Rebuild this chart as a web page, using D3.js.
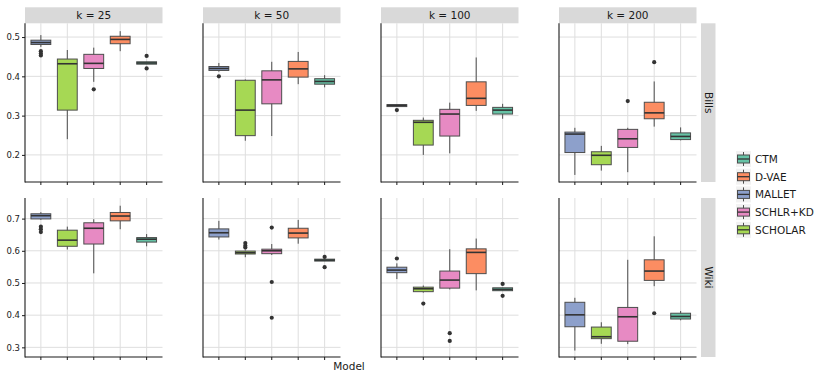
<!DOCTYPE html>
<html>
<head>
<meta charset="utf-8">
<script src="https://cdn.jsdelivr.net/npm/d3@7"></script>
<style>
  body { margin: 0; background: #fff; }
  text { font-family: "DejaVu Sans", sans-serif; fill: #1a1a1a; }
</style>
</head>
<body>
<div id="chart"></div>
<script>
// categories
var models = ["MALLET", "SCHOLAR", "SCHLR+KD", "D-VAE", "CTM"];
var legendOrder = ["CTM", "D-VAE", "MALLET", "SCHLR+KD", "SCHOLAR"];
var ks = [25, 50, 100, 200];
var datasets = ["Bills", "Wiki"];
var colors = { "CTM": "#66c2a5", "D-VAE": "#fc8d62", "MALLET": "#8da0cb", "SCHLR+KD": "#e78ac3", "SCHOLAR": "#a6d854" };

// Bills: one row per k, one value per model (MALLET, SCHOLAR, SCHLR+KD, D-VAE, CTM)
var billsLo  = [[0.475, 0.240, 0.386, 0.464, 0.431], [0.412, 0.236, 0.248, 0.380, 0.372], [0.322, 0.200, 0.204, 0.312, 0.292], [0.149, 0.160, 0.156, 0.272, 0.237]];
var billsQ1  = [[0.481, 0.314, 0.420, 0.483, 0.431], [0.415, 0.249, 0.330, 0.398, 0.380], [0.323, 0.225, 0.248, 0.326, 0.304], [0.206, 0.175, 0.219, 0.292, 0.239]];
var billsMed = [[0.486, 0.432, 0.433, 0.494, 0.434], [0.420, 0.314, 0.391, 0.419, 0.387], [0.326, 0.283, 0.304, 0.344, 0.314], [0.253, 0.199, 0.241, 0.307, 0.247]];
var billsQ3  = [[0.492, 0.444, 0.456, 0.502, 0.437], [0.425, 0.390, 0.414, 0.438, 0.394], [0.328, 0.288, 0.316, 0.386, 0.321], [0.258, 0.208, 0.265, 0.334, 0.256]];
var billsHi  = [[0.505, 0.467, 0.473, 0.515, 0.437], [0.434, 0.392, 0.437, 0.462, 0.403], [0.328, 0.295, 0.333, 0.448, 0.330], [0.269, 0.223, 0.269, 0.387, 0.270]];
var billsOut = [[[0.464, 0.458, 0.453], [], [0.367], [], [0.452, 0.420]],
                [[0.400], [], [], [], []],
                [[0.314], [], [], [], []],
                [[], [], [0.337], [0.436], []]];

// Wiki
var wikiLo  = [[0.696, 0.604, 0.530, 0.667, 0.614], [0.635, 0.580, 0.587, 0.622, 0.568], [0.512, 0.470, 0.480, 0.477, 0.476], [0.290, 0.311, 0.310, 0.490, 0.384]];
var wikiQ1  = [[0.699, 0.614, 0.621, 0.693, 0.627], [0.643, 0.590, 0.591, 0.640, 0.568], [0.532, 0.473, 0.484, 0.529, 0.476], [0.364, 0.327, 0.319, 0.508, 0.388]];
var wikiMed = [[0.709, 0.633, 0.670, 0.708, 0.636], [0.656, 0.594, 0.600, 0.655, 0.571], [0.540, 0.482, 0.509, 0.595, 0.480], [0.401, 0.333, 0.395, 0.537, 0.396]];
var wikiQ3  = [[0.715, 0.664, 0.687, 0.719, 0.641], [0.668, 0.599, 0.605, 0.670, 0.574], [0.549, 0.487, 0.537, 0.606, 0.485], [0.440, 0.363, 0.424, 0.572, 0.406]];
var wikiHi  = [[0.720, 0.675, 0.698, 0.740, 0.652], [0.693, 0.601, 0.621, 0.696, 0.574], [0.561, 0.492, 0.605, 0.638, 0.485], [0.454, 0.378, 0.572, 0.645, 0.413]];
var wikiOut = [[[0.675, 0.667, 0.658], [], [], [], []],
               [[], [0.624, 0.616, 0.610], [0.672, 0.503, 0.392], [], [0.581, 0.549]],
               [[0.576], [0.436], [0.344, 0.320], [], [0.497, 0.460]],
               [[], [], [], [0.406], []]];

var stats = {
  "Bills": { lo: billsLo, q1: billsQ1, med: billsMed, q3: billsQ3, hi: billsHi, out: billsOut },
  "Wiki":  { lo: wikiLo,  q1: wikiQ1,  med: wikiMed,  q3: wikiQ3,  hi: wikiHi,  out: wikiOut }
};

// y ticks per row
var billsTicks = [0.2, 0.3, 0.4, 0.5];
var wikiTicks = [0.3, 0.4, 0.5, 0.6, 0.7];
var ticks = { "Bills": billsTicks, "Wiki": wikiTicks };
var domains = { "Bills": [0.131, 0.535], "Wiki": [0.270, 0.764] };

var W = 830, H = 379;
var panelW = 137.5;
var colX = [25, 203, 381, 559];
var rowY = [[23.3, 182], [198, 357]];

var svg = d3.select("#chart").append("svg")
  .attr("width", W).attr("height", H);

var x = d3.scalePoint().domain(models).range([0, panelW]).padding(0.6);
var bw = x.step() * 0.75;

datasets.forEach(function(ds, r) {
  var y = d3.scaleLinear().domain(domains[ds]).range([rowY[r][1], rowY[r][0]]);
  var s = stats[ds];

  ks.forEach(function(k, c) {
    var g = svg.append("g").attr("transform", "translate(" + colX[c] + ",0)");

    // grid
    g.selectAll(".hgrid").data(ticks[ds]).enter().append("line")
      .attr("x1", 0).attr("x2", panelW)
      .attr("y1", function(d) { return y(d); }).attr("y2", function(d) { return y(d); })
      .attr("stroke", "#dedede").attr("stroke-width", 1);
    g.selectAll(".vgrid").data(models).enter().append("line")
      .attr("x1", function(d) { return x(d); }).attr("x2", function(d) { return x(d); })
      .attr("y1", rowY[r][0]).attr("y2", rowY[r][1])
      .attr("stroke", "#dedede").attr("stroke-width", 1);

    // strip on top
    if (r === 0) {
      g.append("rect").attr("x", 0).attr("y", 7.3).attr("width", panelW).attr("height", 16)
        .attr("fill", "#d9d9d9");
      g.append("text").attr("x", panelW / 2).attr("y", 19.3)
        .attr("text-anchor", "middle").attr("font-size", 10.5)
        .text("k = " + k);
    }

    // boxes
    var box = g.selectAll(".box").data(models).enter().append("g");
    box.append("line")
      .attr("x1", function(d) { return x(d); }).attr("x2", function(d) { return x(d); })
      .attr("y1", function(d, i) { return y(s.hi[c][i]); })
      .attr("y2", function(d, i) { return y(s.lo[c][i]); })
      .attr("stroke", "#4d4d4d").attr("stroke-width", 1);
    box.append("rect")
      .attr("x", function(d) { return x(d) - bw / 2; })
      .attr("width", bw)
      .attr("y", function(d, i) { return y(s.q3[c][i]); })
      .attr("height", function(d, i) { return Math.max(1, y(s.q1[c][i]) - y(s.q3[c][i])); })
      .attr("fill", function(d) { return colors[d]; })
      .attr("stroke", "#4d4d4d").attr("stroke-width", 1);
    box.append("line")
      .attr("x1", function(d) { return x(d) - bw / 2; })
      .attr("x2", function(d) { return x(d) + bw / 2; })
      .attr("y1", function(d, i) { return y(s.med[c][i]); })
      .attr("y2", function(d, i) { return y(s.med[c][i]); })
      .attr("stroke", "#333").attr("stroke-width", 1.6);
    box.each(function(d, i) {
      d3.select(this).selectAll("circle").data(s.out[c][i]).enter().append("circle")
        .attr("cx", x(d)).attr("cy", function(v) { return y(v); })
        .attr("r", 2.1).attr("fill", "#333");
    });

    // axes lines
    g.append("line").attr("x1", 0).attr("x2", 0)
      .attr("y1", rowY[r][0]).attr("y2", rowY[r][1] + 0.5)
      .attr("stroke", "#1a1a1a").attr("stroke-width", 1.1);
    g.append("line").attr("x1", 0).attr("x2", panelW)
      .attr("y1", rowY[r][1]).attr("y2", rowY[r][1])
      .attr("stroke", "#1a1a1a").attr("stroke-width", 1.1);
    g.selectAll(".xt").data(models).enter().append("line")
      .attr("x1", function(d) { return x(d); }).attr("x2", function(d) { return x(d); })
      .attr("y1", rowY[r][1]).attr("y2", rowY[r][1] + 3)
      .attr("stroke", "#1a1a1a");

    if (c === 0) {
      var ax = g.append("g")
        .call(d3.axisLeft(y).tickValues(ticks[ds]).tickSize(3).tickPadding(2)
          .tickFormat(d3.format(".1f")));
      ax.select(".domain").remove();
      ax.selectAll("line").attr("stroke", "#1a1a1a");
      ax.selectAll("text").attr("font-size", 8.5).attr("fill", "#1a1a1a")
        .style("font-family", "DejaVu Sans, sans-serif");
    }

    // strip on right
    if (c === ks.length - 1) {
      var sx = panelW + 4.5;
      g.append("rect").attr("x", sx).attr("y", rowY[r][0]).attr("width", 14.5)
        .attr("height", rowY[r][1] - rowY[r][0]).attr("fill", "#d9d9d9");
      g.append("text")
        .attr("transform", "translate(" + (sx + 3.5) + "," + ((rowY[r][0] + rowY[r][1]) / 2) + ") rotate(90)")
        .attr("text-anchor", "middle").attr("font-size", 10.5)
        .text(ds);
    }
  });
});

// x axis title
svg.append("text").attr("x", 349).attr("y", 370)
  .attr("text-anchor", "middle").attr("font-size", 10.5).text("Model");

// legend
var legend = svg.append("g").attr("transform", "translate(736,151)");
var item = legend.selectAll(".item").data(legendOrder).enter().append("g")
  .attr("transform", function(d, i) { return "translate(0," + (i * 17.7) + ")"; });
item.append("rect").attr("width", 15).attr("height", 16).attr("fill", "#f2f2f2");
item.append("line").attr("x1", 7.5).attr("x2", 7.5).attr("y1", 1).attr("y2", 15)
  .attr("stroke", "#4d4d4d");
item.append("rect").attr("x", 1.5).attr("y", 4).attr("width", 12).attr("height", 8)
  .attr("fill", function(d) { return colors[d]; })
  .attr("stroke", "#4d4d4d").attr("stroke-width", 1);
item.append("line").attr("x1", 1.5).attr("x2", 13.5).attr("y1", 8).attr("y2", 8)
  .attr("stroke", "#333").attr("stroke-width", 1.3);
item.append("text").attr("x", 19).attr("y", 12).attr("font-size", 10.5)
  .text(function(d) { return d; });
</script>
</body>
</html>
